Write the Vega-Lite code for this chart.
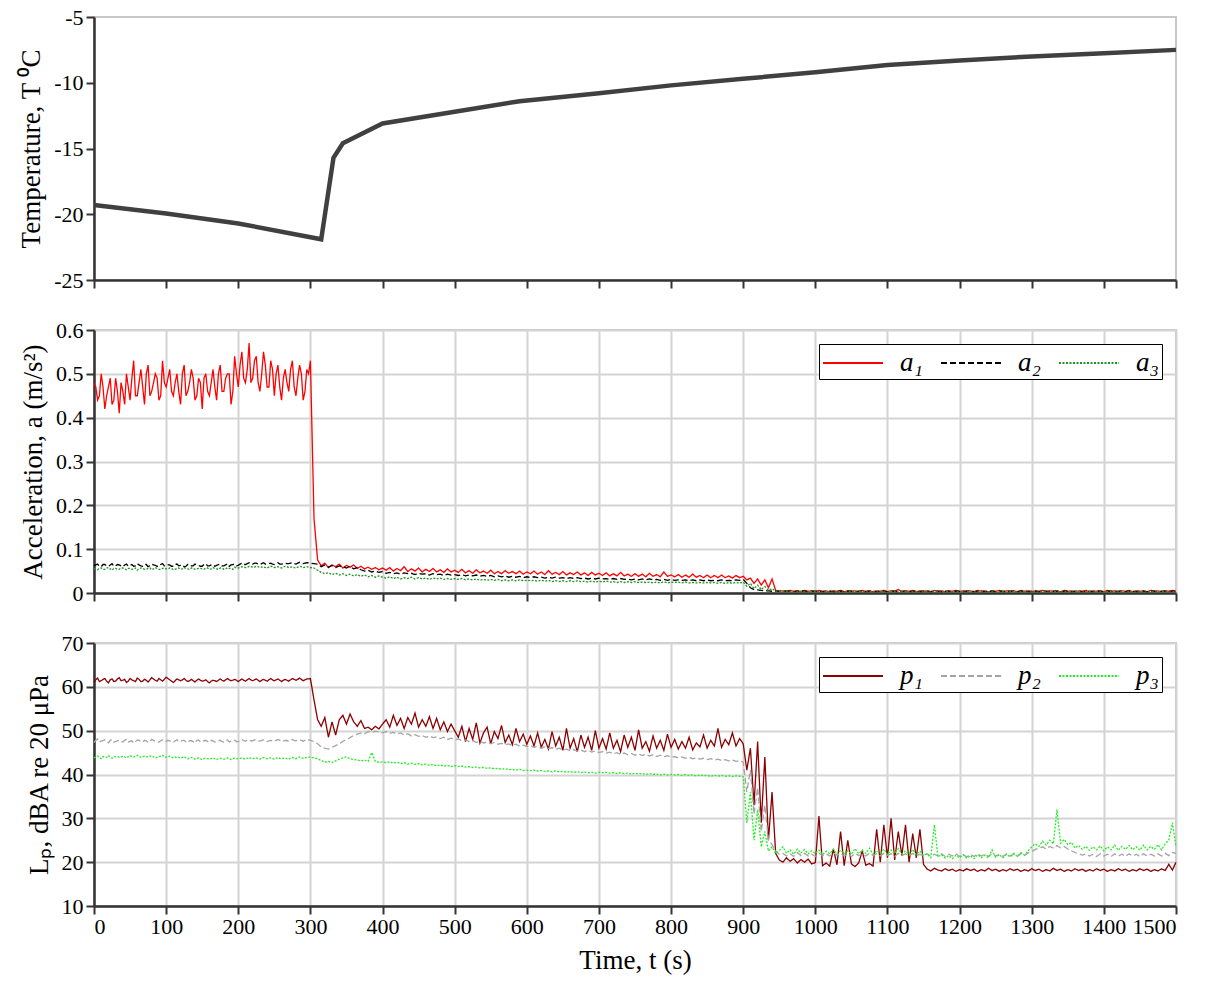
{
  "$schema": "https://vega.github.io/schema/vega-lite/v6.json",
  "background": "white",
  "padding": {"left": 16, "top": 5, "right": 30, "bottom": 5},
  "spacing": 26,
  "align": "none",
  "bounds": "full",
  "datasets": {
    "temp": [
      {"t": 0, "T": -19.3}, {"t": 100, "T": -19.95}, {"t": 200, "T": -20.7}, {"t": 315, "T": -21.9},
      {"t": 332, "T": -15.7}, {"t": 345, "T": -14.6}, {"t": 400, "T": -13.1}, {"t": 500, "T": -12.2},
      {"t": 590, "T": -11.4}, {"t": 700, "T": -10.8}, {"t": 800, "T": -10.2}, {"t": 900, "T": -9.7},
      {"t": 1000, "T": -9.2}, {"t": 1100, "T": -8.65}, {"t": 1200, "T": -8.3}, {"t": 1300, "T": -8.0},
      {"t": 1400, "T": -7.75}, {"t": 1500, "T": -7.5}
    ],
    "sig": [
      {"t":0,"a1":0.48,"a2":0.062,"a3":0.056,"p1":61.0,"p2":47.3,"p3":43.8},
      {"t":5,"a1":0.44,"a2":0.066,"a3":0.053,"p1":62.0,"p2":48.1,"p3":44.2},
      {"t":10,"a1":0.50,"a2":0.060,"a3":0.057,"p1":61.4,"p2":47.6,"p3":43.6},
      {"t":15,"a1":0.42,"a2":0.065,"a3":0.054,"p1":61.9,"p2":47.9,"p3":44.0},
      {"t":20,"a1":0.47,"a2":0.061,"a3":0.058,"p1":60.9,"p2":47.2,"p3":44.3},
      {"t":25,"a1":0.43,"a2":0.067,"a3":0.052,"p1":61.8,"p2":48.0,"p3":43.7},
      {"t":30,"a1":0.49,"a2":0.062,"a3":0.056,"p1":61.3,"p2":47.5,"p3":44.1},
      {"t":35,"a1":0.41,"a2":0.064,"a3":0.054,"p1":62.1,"p2":47.8,"p3":43.9},
      {"t":40,"a1":0.46,"a2":0.060,"a3":0.057,"p1":61.5,"p2":47.4,"p3":44.2},
      {"t":45,"a1":0.50,"a2":0.066,"a3":0.053,"p1":61.0,"p2":48.0,"p3":43.8},
      {"t":50,"a1":0.44,"a2":0.063,"a3":0.056,"p1":61.9,"p2":47.6,"p3":44.3},
      {"t":55,"a1":0.53,"a2":0.061,"a3":0.055,"p1":61.4,"p2":47.2,"p3":44.0},
      {"t":60,"a1":0.45,"a2":0.067,"a3":0.052,"p1":62.0,"p2":47.9,"p3":44.4},
      {"t":65,"a1":0.51,"a2":0.062,"a3":0.057,"p1":61.2,"p2":47.5,"p3":43.9},
      {"t":70,"a1":0.43,"a2":0.065,"a3":0.054,"p1":61.7,"p2":47.8,"p3":44.2},
      {"t":75,"a1":0.52,"a2":0.060,"a3":0.056,"p1":61.1,"p2":47.3,"p3":44.0},
      {"t":80,"a1":0.46,"a2":0.066,"a3":0.053,"p1":62.1,"p2":48.0,"p3":44.3},
      {"t":85,"a1":0.50,"a2":0.063,"a3":0.058,"p1":61.5,"p2":47.6,"p3":43.8},
      {"t":90,"a1":0.44,"a2":0.061,"a3":0.054,"p1":61.9,"p2":47.4,"p3":44.1},
      {"t":95,"a1":0.53,"a2":0.067,"a3":0.056,"p1":61.3,"p2":47.9,"p3":44.4},
      {"t":100,"a1":0.47,"a2":0.062,"a3":0.055,"p1":62.2,"p2":47.5,"p3":43.9},
      {"t":105,"a1":0.51,"a2":0.064,"a3":0.057,"p1":61.6,"p2":47.7,"p3":44.2},
      {"t":110,"a1":0.45,"a2":0.061,"a3":0.053,"p1":61.0,"p2":47.3,"p3":43.8},
      {"t":115,"a1":0.50,"a2":0.066,"a3":0.056,"p1":61.8,"p2":47.9,"p3":44.0},
      {"t":120,"a1":0.43,"a2":0.063,"a3":0.054,"p1":61.4,"p2":47.5,"p3":43.7},
      {"t":125,"a1":0.52,"a2":0.060,"a3":0.058,"p1":61.9,"p2":47.8,"p3":44.1},
      {"t":130,"a1":0.46,"a2":0.065,"a3":0.055,"p1":61.2,"p2":47.4,"p3":43.6},
      {"t":135,"a1":0.51,"a2":0.062,"a3":0.057,"p1":61.7,"p2":47.7,"p3":43.9},
      {"t":140,"a1":0.44,"a2":0.066,"a3":0.054,"p1":61.1,"p2":47.2,"p3":43.5},
      {"t":145,"a1":0.49,"a2":0.063,"a3":0.056,"p1":61.8,"p2":47.9,"p3":43.8},
      {"t":150,"a1":0.42,"a2":0.061,"a3":0.055,"p1":61.3,"p2":47.6,"p3":43.4},
      {"t":155,"a1":0.50,"a2":0.067,"a3":0.057,"p1":61.6,"p2":47.8,"p3":43.7},
      {"t":160,"a1":0.45,"a2":0.062,"a3":0.054,"p1":60.9,"p2":47.3,"p3":43.5},
      {"t":165,"a1":0.51,"a2":0.065,"a3":0.058,"p1":61.5,"p2":47.7,"p3":43.8},
      {"t":170,"a1":0.44,"a2":0.063,"a3":0.055,"p1":61.2,"p2":47.5,"p3":43.4},
      {"t":175,"a1":0.52,"a2":0.066,"a3":0.057,"p1":61.8,"p2":47.8,"p3":43.7},
      {"t":180,"a1":0.46,"a2":0.062,"a3":0.054,"p1":61.3,"p2":47.4,"p3":43.5},
      {"t":185,"a1":0.50,"a2":0.067,"a3":0.058,"p1":61.9,"p2":47.9,"p3":43.8},
      {"t":190,"a1":0.43,"a2":0.064,"a3":0.056,"p1":61.4,"p2":47.6,"p3":43.4},
      {"t":195,"a1":0.54,"a2":0.066,"a3":0.059,"p1":61.7,"p2":47.8,"p3":43.7},
      {"t":200,"a1":0.47,"a2":0.063,"a3":0.057,"p1":61.2,"p2":47.5,"p3":43.6},
      {"t":205,"a1":0.55,"a2":0.068,"a3":0.060,"p1":61.8,"p2":48.0,"p3":43.8},
      {"t":210,"a1":0.48,"a2":0.065,"a3":0.058,"p1":61.3,"p2":47.6,"p3":43.5},
      {"t":215,"a1":0.57,"a2":0.069,"a3":0.061,"p1":61.9,"p2":47.9,"p3":43.9},
      {"t":220,"a1":0.49,"a2":0.066,"a3":0.059,"p1":61.4,"p2":47.7,"p3":43.6},
      {"t":225,"a1":0.54,"a2":0.068,"a3":0.061,"p1":61.8,"p2":48.0,"p3":43.8},
      {"t":230,"a1":0.46,"a2":0.065,"a3":0.058,"p1":61.2,"p2":47.6,"p3":43.5},
      {"t":235,"a1":0.55,"a2":0.069,"a3":0.060,"p1":61.7,"p2":47.9,"p3":43.9},
      {"t":240,"a1":0.47,"a2":0.066,"a3":0.057,"p1":61.3,"p2":47.5,"p3":43.6},
      {"t":245,"a1":0.53,"a2":0.068,"a3":0.061,"p1":61.9,"p2":47.8,"p3":43.8},
      {"t":250,"a1":0.45,"a2":0.065,"a3":0.058,"p1":61.4,"p2":47.6,"p3":43.5},
      {"t":255,"a1":0.52,"a2":0.069,"a3":0.060,"p1":61.8,"p2":48.0,"p3":43.9},
      {"t":260,"a1":0.44,"a2":0.066,"a3":0.057,"p1":61.2,"p2":47.5,"p3":43.6},
      {"t":265,"a1":0.51,"a2":0.068,"a3":0.061,"p1":61.7,"p2":47.8,"p3":43.8},
      {"t":270,"a1":0.46,"a2":0.067,"a3":0.058,"p1":61.3,"p2":47.6,"p3":43.5},
      {"t":275,"a1":0.53,"a2":0.069,"a3":0.060,"p1":61.9,"p2":48.0,"p3":43.9},
      {"t":280,"a1":0.45,"a2":0.066,"a3":0.057,"p1":61.5,"p2":47.7,"p3":43.6},
      {"t":285,"a1":0.52,"a2":0.070,"a3":0.061,"p1":62.0,"p2":47.9,"p3":44.0},
      {"t":290,"a1":0.44,"a2":0.067,"a3":0.058,"p1":61.4,"p2":47.6,"p3":43.7},
      {"t":295,"a1":0.51,"a2":0.069,"a3":0.060,"p1":61.8,"p2":48.1,"p3":43.9},
      {"t":300,"a1":0.53,"a2":0.068,"a3":0.058,"p1":61.9,"p2":47.8,"p3":44.0},
      {"t":305,"a1":0.17,"a2":0.067,"a3":0.057,"p1":57.0,"p2":47.5,"p3":43.8},
      {"t":310,"a1":0.075,"a2":0.066,"a3":0.052,"p1":52.5,"p2":47.0,"p3":43.6},
      {"t":315,"a1":0.062,"a2":0.060,"a3":0.047,"p1":51.0,"p2":46.3,"p3":43.2},
      {"t":320,"a1":0.068,"a2":0.064,"a3":0.044,"p1":53.0,"p2":46.0,"p3":42.8},
      {"t":325,"a1":0.058,"a2":0.059,"a3":0.046,"p1":48.5,"p2":45.8,"p3":43.0},
      {"t":330,"a1":0.064,"a2":0.063,"a3":0.042,"p1":52.0,"p2":46.2,"p3":42.7},
      {"t":335,"a1":0.060,"a2":0.058,"a3":0.045,"p1":49.0,"p2":46.6,"p3":43.1},
      {"t":340,"a1":0.066,"a2":0.062,"a3":0.041,"p1":52.5,"p2":47.0,"p3":43.5},
      {"t":345,"a1":0.057,"a2":0.060,"a3":0.044,"p1":53.5,"p2":47.6,"p3":43.8},
      {"t":350,"a1":0.063,"a2":0.057,"a3":0.040,"p1":51.5,"p2":48.0,"p3":44.0},
      {"t":355,"a1":0.059,"a2":0.061,"a3":0.043,"p1":53.8,"p2":48.4,"p3":43.6},
      {"t":360,"a1":0.064,"a2":0.055,"a3":0.039,"p1":52.0,"p2":48.9,"p3":43.4},
      {"t":365,"a1":0.056,"a2":0.058,"a3":0.042,"p1":51.0,"p2":49.2,"p3":43.3},
      {"t":370,"a1":0.061,"a2":0.053,"a3":0.038,"p1":52.3,"p2":49.5,"p3":43.1},
      {"t":375,"a1":0.055,"a2":0.050,"a3":0.041,"p1":50.5,"p2":49.3,"p3":43.3},
      {"t":380,"a1":0.059,"a2":0.052,"a3":0.037,"p1":50.8,"p2":49.8,"p3":43.0},
      {"t":385,"a1":0.054,"a2":0.048,"a3":0.040,"p1":50.2,"p2":49.6,"p3":45.0},
      {"t":390,"a1":0.058,"a2":0.050,"a3":0.036,"p1":51.0,"p2":49.9,"p3":43.0},
      {"t":395,"a1":0.053,"a2":0.047,"a3":0.039,"p1":50.4,"p2":49.7,"p3":42.8},
      {"t":400,"a1":0.057,"a2":0.049,"a3":0.036,"p1":51.5,"p2":49.5,"p3":42.9},
      {"t":405,"a1":0.052,"a2":0.045,"a3":0.034,"p1":52.5,"p2":49.8,"p3":42.7},
      {"t":410,"a1":0.058,"a2":0.047,"a3":0.037,"p1":50.8,"p2":49.4,"p3":42.9},
      {"t":415,"a1":0.050,"a2":0.044,"a3":0.033,"p1":53.5,"p2":49.6,"p3":42.6},
      {"t":420,"a1":0.056,"a2":0.046,"a3":0.036,"p1":51.2,"p2":49.2,"p3":42.8},
      {"t":425,"a1":0.051,"a2":0.043,"a3":0.032,"p1":52.8,"p2":49.5,"p3":42.5},
      {"t":430,"a1":0.060,"a2":0.046,"a3":0.035,"p1":50.5,"p2":49.0,"p3":42.7},
      {"t":435,"a1":0.049,"a2":0.044,"a3":0.033,"p1":53.0,"p2":49.3,"p3":42.4},
      {"t":440,"a1":0.055,"a2":0.045,"a3":0.036,"p1":51.5,"p2":48.8,"p3":42.6},
      {"t":445,"a1":0.050,"a2":0.042,"a3":0.032,"p1":54.0,"p2":49.1,"p3":42.3},
      {"t":450,"a1":0.057,"a2":0.045,"a3":0.035,"p1":50.8,"p2":48.7,"p3":42.5},
      {"t":455,"a1":0.048,"a2":0.043,"a3":0.032,"p1":52.5,"p2":48.9,"p3":42.2},
      {"t":460,"a1":0.054,"a2":0.044,"a3":0.034,"p1":51.0,"p2":48.5,"p3":42.4},
      {"t":465,"a1":0.049,"a2":0.041,"a3":0.031,"p1":53.2,"p2":48.8,"p3":42.1},
      {"t":470,"a1":0.056,"a2":0.044,"a3":0.034,"p1":50.5,"p2":48.4,"p3":42.3},
      {"t":475,"a1":0.048,"a2":0.042,"a3":0.032,"p1":52.8,"p2":48.6,"p3":42.0},
      {"t":480,"a1":0.053,"a2":0.043,"a3":0.034,"p1":50.2,"p2":48.2,"p3":42.2},
      {"t":485,"a1":0.047,"a2":0.040,"a3":0.031,"p1":52.0,"p2":48.5,"p3":41.9},
      {"t":490,"a1":0.055,"a2":0.043,"a3":0.033,"p1":49.8,"p2":48.0,"p3":42.1},
      {"t":495,"a1":0.048,"a2":0.041,"a3":0.031,"p1":51.5,"p2":48.3,"p3":41.8},
      {"t":500,"a1":0.052,"a2":0.042,"a3":0.033,"p1":50.0,"p2":47.9,"p3":42.0},
      {"t":505,"a1":0.047,"a2":0.040,"a3":0.031,"p1":48.5,"p2":48.1,"p3":41.8},
      {"t":510,"a1":0.054,"a2":0.042,"a3":0.033,"p1":51.0,"p2":47.7,"p3":41.9},
      {"t":515,"a1":0.046,"a2":0.039,"a3":0.030,"p1":47.5,"p2":47.9,"p3":41.7},
      {"t":520,"a1":0.051,"a2":0.041,"a3":0.032,"p1":50.5,"p2":47.5,"p3":41.8},
      {"t":525,"a1":0.045,"a2":0.039,"a3":0.030,"p1":48.0,"p2":47.8,"p3":41.6},
      {"t":530,"a1":0.053,"a2":0.041,"a3":0.032,"p1":51.8,"p2":47.3,"p3":41.7},
      {"t":535,"a1":0.046,"a2":0.038,"a3":0.029,"p1":47.2,"p2":47.6,"p3":41.5},
      {"t":540,"a1":0.050,"a2":0.040,"a3":0.031,"p1":49.5,"p2":47.2,"p3":41.6},
      {"t":545,"a1":0.045,"a2":0.038,"a3":0.029,"p1":50.8,"p2":47.4,"p3":41.4},
      {"t":550,"a1":0.052,"a2":0.040,"a3":0.031,"p1":47.0,"p2":47.0,"p3":41.5},
      {"t":555,"a1":0.044,"a2":0.037,"a3":0.029,"p1":49.8,"p2":47.3,"p3":41.3},
      {"t":560,"a1":0.049,"a2":0.039,"a3":0.031,"p1":48.2,"p2":46.9,"p3":41.4},
      {"t":565,"a1":0.044,"a2":0.037,"a3":0.028,"p1":51.2,"p2":47.1,"p3":41.2},
      {"t":570,"a1":0.051,"a2":0.039,"a3":0.030,"p1":47.3,"p2":46.8,"p3":41.3},
      {"t":575,"a1":0.045,"a2":0.036,"a3":0.028,"p1":49.0,"p2":47.0,"p3":41.1},
      {"t":580,"a1":0.049,"a2":0.038,"a3":0.030,"p1":46.8,"p2":46.6,"p3":41.2},
      {"t":585,"a1":0.044,"a2":0.036,"a3":0.028,"p1":50.5,"p2":46.9,"p3":41.0},
      {"t":590,"a1":0.050,"a2":0.038,"a3":0.030,"p1":47.5,"p2":46.5,"p3":41.2},
      {"t":595,"a1":0.043,"a2":0.035,"a3":0.028,"p1":49.2,"p2":46.7,"p3":40.9},
      {"t":600,"a1":0.048,"a2":0.037,"a3":0.029,"p1":46.9,"p2":46.4,"p3":41.0},
      {"t":605,"a1":0.044,"a2":0.035,"a3":0.028,"p1":48.8,"p2":46.6,"p3":40.9},
      {"t":610,"a1":0.050,"a2":0.037,"a3":0.029,"p1":46.5,"p2":46.2,"p3":41.0},
      {"t":615,"a1":0.043,"a2":0.035,"a3":0.027,"p1":49.5,"p2":46.4,"p3":40.8},
      {"t":620,"a1":0.048,"a2":0.036,"a3":0.029,"p1":46.2,"p2":46.0,"p3":40.9},
      {"t":625,"a1":0.042,"a2":0.034,"a3":0.027,"p1":48.0,"p2":46.3,"p3":40.7},
      {"t":630,"a1":0.051,"a2":0.036,"a3":0.029,"p1":45.8,"p2":45.9,"p3":40.8},
      {"t":635,"a1":0.043,"a2":0.034,"a3":0.026,"p1":49.8,"p2":46.1,"p3":40.6},
      {"t":640,"a1":0.047,"a2":0.036,"a3":0.028,"p1":46.5,"p2":45.7,"p3":40.8},
      {"t":645,"a1":0.042,"a2":0.034,"a3":0.026,"p1":48.5,"p2":46.0,"p3":40.6},
      {"t":650,"a1":0.049,"a2":0.035,"a3":0.028,"p1":45.5,"p2":45.6,"p3":40.7},
      {"t":655,"a1":0.041,"a2":0.033,"a3":0.026,"p1":50.5,"p2":45.8,"p3":40.5},
      {"t":660,"a1":0.046,"a2":0.035,"a3":0.028,"p1":46.0,"p2":45.4,"p3":40.7},
      {"t":665,"a1":0.042,"a2":0.033,"a3":0.026,"p1":48.2,"p2":45.7,"p3":40.5},
      {"t":670,"a1":0.048,"a2":0.035,"a3":0.028,"p1":45.2,"p2":45.3,"p3":40.6},
      {"t":675,"a1":0.041,"a2":0.033,"a3":0.026,"p1":49.0,"p2":45.6,"p3":40.4},
      {"t":680,"a1":0.046,"a2":0.034,"a3":0.027,"p1":46.2,"p2":45.2,"p3":40.6},
      {"t":685,"a1":0.040,"a2":0.032,"a3":0.025,"p1":48.5,"p2":45.5,"p3":40.4},
      {"t":690,"a1":0.047,"a2":0.034,"a3":0.027,"p1":45.5,"p2":45.1,"p3":40.5},
      {"t":695,"a1":0.041,"a2":0.032,"a3":0.025,"p1":50.0,"p2":45.4,"p3":40.3},
      {"t":700,"a1":0.045,"a2":0.034,"a3":0.027,"p1":46.0,"p2":45.0,"p3":40.5},
      {"t":705,"a1":0.040,"a2":0.032,"a3":0.025,"p1":48.2,"p2":45.2,"p3":40.4},
      {"t":710,"a1":0.046,"a2":0.033,"a3":0.027,"p1":45.8,"p2":44.9,"p3":40.5},
      {"t":715,"a1":0.039,"a2":0.031,"a3":0.025,"p1":49.5,"p2":45.1,"p3":40.3},
      {"t":720,"a1":0.044,"a2":0.033,"a3":0.026,"p1":46.0,"p2":44.7,"p3":40.4},
      {"t":725,"a1":0.039,"a2":0.031,"a3":0.024,"p1":47.8,"p2":45.0,"p3":40.2},
      {"t":730,"a1":0.047,"a2":0.033,"a3":0.026,"p1":45.2,"p2":44.6,"p3":40.4},
      {"t":735,"a1":0.039,"a2":0.031,"a3":0.024,"p1":49.0,"p2":44.9,"p3":40.2},
      {"t":740,"a1":0.043,"a2":0.032,"a3":0.026,"p1":46.2,"p2":44.5,"p3":40.3},
      {"t":745,"a1":0.038,"a2":0.030,"a3":0.024,"p1":48.5,"p2":44.8,"p3":40.1},
      {"t":750,"a1":0.044,"a2":0.032,"a3":0.026,"p1":45.5,"p2":44.4,"p3":40.3},
      {"t":755,"a1":0.038,"a2":0.030,"a3":0.024,"p1":50.2,"p2":44.7,"p3":40.1},
      {"t":760,"a1":0.043,"a2":0.032,"a3":0.025,"p1":46.0,"p2":44.3,"p3":40.2},
      {"t":765,"a1":0.037,"a2":0.030,"a3":0.024,"p1":47.5,"p2":44.6,"p3":40.0},
      {"t":770,"a1":0.045,"a2":0.032,"a3":0.025,"p1":45.3,"p2":44.2,"p3":40.2},
      {"t":775,"a1":0.038,"a2":0.030,"a3":0.023,"p1":48.8,"p2":44.5,"p3":40.0},
      {"t":780,"a1":0.042,"a2":0.031,"a3":0.025,"p1":46.0,"p2":44.1,"p3":40.1},
      {"t":785,"a1":0.037,"a2":0.029,"a3":0.023,"p1":47.8,"p2":44.4,"p3":39.9},
      {"t":790,"a1":0.048,"a2":0.031,"a3":0.025,"p1":45.5,"p2":44.0,"p3":40.1},
      {"t":795,"a1":0.038,"a2":0.029,"a3":0.023,"p1":49.2,"p2":44.3,"p3":39.9},
      {"t":800,"a1":0.041,"a2":0.031,"a3":0.025,"p1":46.2,"p2":43.9,"p3":40.0},
      {"t":805,"a1":0.037,"a2":0.029,"a3":0.024,"p1":48.0,"p2":44.1,"p3":39.9},
      {"t":810,"a1":0.042,"a2":0.030,"a3":0.025,"p1":45.8,"p2":43.8,"p3":40.0},
      {"t":815,"a1":0.036,"a2":0.029,"a3":0.023,"p1":47.5,"p2":44.0,"p3":39.8},
      {"t":820,"a1":0.041,"a2":0.030,"a3":0.025,"p1":46.0,"p2":43.7,"p3":40.0},
      {"t":825,"a1":0.036,"a2":0.028,"a3":0.023,"p1":48.5,"p2":43.9,"p3":39.8},
      {"t":830,"a1":0.043,"a2":0.030,"a3":0.024,"p1":45.6,"p2":43.6,"p3":39.9},
      {"t":835,"a1":0.036,"a2":0.028,"a3":0.023,"p1":47.2,"p2":43.8,"p3":39.7},
      {"t":840,"a1":0.040,"a2":0.030,"a3":0.024,"p1":46.3,"p2":43.5,"p3":39.9},
      {"t":845,"a1":0.035,"a2":0.028,"a3":0.023,"p1":49.0,"p2":43.7,"p3":39.7},
      {"t":850,"a1":0.041,"a2":0.030,"a3":0.024,"p1":46.0,"p2":43.4,"p3":39.8},
      {"t":855,"a1":0.035,"a2":0.028,"a3":0.023,"p1":47.8,"p2":43.6,"p3":39.6},
      {"t":860,"a1":0.040,"a2":0.029,"a3":0.024,"p1":46.5,"p2":43.3,"p3":39.8},
      {"t":865,"a1":0.035,"a2":0.028,"a3":0.022,"p1":50.5,"p2":43.5,"p3":39.6},
      {"t":870,"a1":0.041,"a2":0.030,"a3":0.024,"p1":46.2,"p2":43.2,"p3":39.8},
      {"t":875,"a1":0.035,"a2":0.028,"a3":0.022,"p1":48.0,"p2":43.4,"p3":39.6},
      {"t":880,"a1":0.039,"a2":0.029,"a3":0.024,"p1":46.8,"p2":43.1,"p3":39.7},
      {"t":885,"a1":0.034,"a2":0.028,"a3":0.022,"p1":49.5,"p2":43.3,"p3":39.5},
      {"t":890,"a1":0.040,"a2":0.030,"a3":0.024,"p1":46.5,"p2":43.0,"p3":39.7},
      {"t":895,"a1":0.035,"a2":0.029,"a3":0.023,"p1":48.2,"p2":43.2,"p3":39.6},
      {"t":900,"a1":0.038,"a2":0.031,"a3":0.025,"p1":47.0,"p2":42.8,"p3":39.5},
      {"t":905,"a1":0.030,"a2":0.022,"a3":0.015,"p1":41.0,"p2":36.0,"p3":29.0},
      {"t":910,"a1":0.034,"a2":0.012,"a3":0.022,"p1":46.0,"p2":41.0,"p3":36.0},
      {"t":915,"a1":0.022,"a2":0.008,"a3":0.010,"p1":33.0,"p2":31.0,"p3":25.0},
      {"t":920,"a1":0.032,"a2":0.007,"a3":0.018,"p1":47.5,"p2":37.0,"p3":32.0},
      {"t":925,"a1":0.018,"a2":0.006,"a3":0.008,"p1":29.0,"p2":27.0,"p3":23.5},
      {"t":930,"a1":0.030,"a2":0.005,"a3":0.015,"p1":44.0,"p2":33.0,"p3":27.0},
      {"t":935,"a1":0.012,"a2":0.005,"a3":0.006,"p1":25.0,"p2":25.0,"p3":22.5},
      {"t":940,"a1":0.032,"a2":0.004,"a3":0.010,"p1":36.0,"p2":24.0,"p3":23.5},
      {"t":945,"a1":0.006,"a2":0.004,"a3":0.004,"p1":22.0,"p2":22.5,"p3":22.0},
      {"t":950,"a1":0.004,"a2":0.004,"a3":0.003,"p1":20.5,"p2":21.8,"p3":22.6},
      {"t":955,"a1":0.005,"a2":0.004,"a3":0.003,"p1":20.0,"p2":22.0,"p3":23.5},
      {"t":960,"a1":0.003,"a2":0.005,"a3":0.004,"p1":21.0,"p2":21.4,"p3":22.0},
      {"t":965,"a1":0.006,"a2":0.004,"a3":0.003,"p1":20.2,"p2":21.9,"p3":22.8},
      {"t":970,"a1":0.004,"a2":0.003,"a3":0.002,"p1":20.8,"p2":21.3,"p3":21.8},
      {"t":975,"a1":0.005,"a2":0.004,"a3":0.003,"p1":19.8,"p2":22.2,"p3":23.0},
      {"t":980,"a1":0.003,"a2":0.005,"a3":0.004,"p1":20.6,"p2":21.5,"p3":22.1},
      {"t":985,"a1":0.006,"a2":0.004,"a3":0.003,"p1":20.0,"p2":22.0,"p3":22.9},
      {"t":990,"a1":0.004,"a2":0.003,"a3":0.002,"p1":20.7,"p2":21.4,"p3":21.9},
      {"t":995,"a1":0.005,"a2":0.004,"a3":0.003,"p1":19.6,"p2":21.8,"p3":22.6},
      {"t":1000,"a1":0.003,"a2":0.004,"a3":0.003,"p1":19.9,"p2":21.3,"p3":22.0},
      {"t":1005,"a1":0.006,"a2":0.004,"a3":0.003,"p1":30.5,"p2":22.0,"p3":22.8},
      {"t":1010,"a1":0.004,"a2":0.003,"a3":0.002,"p1":19.2,"p2":21.5,"p3":21.7},
      {"t":1015,"a1":0.005,"a2":0.004,"a3":0.003,"p1":19.8,"p2":21.9,"p3":22.5},
      {"t":1020,"a1":0.003,"a2":0.004,"a3":0.003,"p1":19.1,"p2":21.4,"p3":21.9},
      {"t":1025,"a1":0.005,"a2":0.003,"a3":0.002,"p1":23.0,"p2":22.1,"p3":23.0},
      {"t":1030,"a1":0.004,"a2":0.004,"a3":0.003,"p1":19.4,"p2":21.6,"p3":21.8},
      {"t":1035,"a1":0.006,"a2":0.004,"a3":0.003,"p1":27.0,"p2":22.0,"p3":22.7},
      {"t":1040,"a1":0.003,"a2":0.003,"a3":0.002,"p1":19.2,"p2":21.4,"p3":21.9},
      {"t":1045,"a1":0.005,"a2":0.004,"a3":0.003,"p1":25.0,"p2":21.9,"p3":22.6},
      {"t":1050,"a1":0.004,"a2":0.004,"a3":0.003,"p1":19.6,"p2":21.3,"p3":21.8},
      {"t":1055,"a1":0.005,"a2":0.003,"a3":0.002,"p1":19.0,"p2":22.0,"p3":23.1},
      {"t":1060,"a1":0.003,"a2":0.004,"a3":0.003,"p1":19.8,"p2":21.5,"p3":21.9},
      {"t":1065,"a1":0.006,"a2":0.004,"a3":0.003,"p1":22.5,"p2":21.8,"p3":22.7},
      {"t":1070,"a1":0.004,"a2":0.003,"a3":0.002,"p1":19.3,"p2":21.4,"p3":22.0},
      {"t":1075,"a1":0.005,"a2":0.004,"a3":0.003,"p1":19.7,"p2":22.1,"p3":23.2},
      {"t":1080,"a1":0.003,"a2":0.004,"a3":0.003,"p1":19.1,"p2":21.5,"p3":21.8},
      {"t":1085,"a1":0.005,"a2":0.003,"a3":0.002,"p1":27.5,"p2":21.9,"p3":22.6},
      {"t":1090,"a1":0.004,"a2":0.004,"a3":0.003,"p1":20.0,"p2":21.4,"p3":22.0},
      {"t":1095,"a1":0.006,"a2":0.004,"a3":0.003,"p1":28.5,"p2":22.0,"p3":23.0},
      {"t":1100,"a1":0.003,"a2":0.003,"a3":0.002,"p1":21.0,"p2":21.5,"p3":21.7},
      {"t":1105,"a1":0.005,"a2":0.004,"a3":0.003,"p1":30.0,"p2":21.9,"p3":22.8},
      {"t":1110,"a1":0.004,"a2":0.004,"a3":0.003,"p1":20.5,"p2":21.3,"p3":22.0},
      {"t":1115,"a1":0.008,"a2":0.003,"a3":0.002,"p1":27.0,"p2":22.0,"p3":23.1},
      {"t":1120,"a1":0.003,"a2":0.004,"a3":0.003,"p1":21.5,"p2":21.5,"p3":21.9},
      {"t":1125,"a1":0.005,"a2":0.004,"a3":0.003,"p1":28.5,"p2":21.9,"p3":22.6},
      {"t":1130,"a1":0.004,"a2":0.003,"a3":0.002,"p1":20.0,"p2":21.4,"p3":21.8},
      {"t":1135,"a1":0.006,"a2":0.004,"a3":0.003,"p1":26.5,"p2":22.0,"p3":22.9},
      {"t":1140,"a1":0.003,"a2":0.004,"a3":0.003,"p1":21.0,"p2":21.5,"p3":21.7},
      {"t":1145,"a1":0.005,"a2":0.003,"a3":0.002,"p1":27.5,"p2":21.8,"p3":22.5},
      {"t":1150,"a1":0.004,"a2":0.004,"a3":0.003,"p1":19.5,"p2":21.4,"p3":21.6},
      {"t":1155,"a1":0.005,"a2":0.004,"a3":0.003,"p1":18.4,"p2":21.9,"p3":21.9},
      {"t":1160,"a1":0.003,"a2":0.003,"a3":0.002,"p1":18.0,"p2":21.3,"p3":21.0},
      {"t":1165,"a1":0.006,"a2":0.004,"a3":0.003,"p1":18.6,"p2":21.8,"p3":28.5},
      {"t":1170,"a1":0.004,"a2":0.004,"a3":0.003,"p1":18.2,"p2":21.4,"p3":21.2},
      {"t":1175,"a1":0.005,"a2":0.003,"a3":0.002,"p1":18.0,"p2":21.9,"p3":21.7},
      {"t":1180,"a1":0.003,"a2":0.004,"a3":0.003,"p1":18.5,"p2":21.3,"p3":20.9},
      {"t":1185,"a1":0.005,"a2":0.004,"a3":0.003,"p1":18.1,"p2":21.8,"p3":21.5},
      {"t":1190,"a1":0.004,"a2":0.003,"a3":0.002,"p1":18.4,"p2":21.4,"p3":20.8},
      {"t":1195,"a1":0.006,"a2":0.004,"a3":0.003,"p1":17.9,"p2":21.9,"p3":21.6},
      {"t":1200,"a1":0.003,"a2":0.004,"a3":0.003,"p1":18.3,"p2":21.3,"p3":21.0},
      {"t":1205,"a1":0.005,"a2":0.003,"a3":0.002,"p1":18.0,"p2":21.7,"p3":21.7},
      {"t":1210,"a1":0.004,"a2":0.004,"a3":0.003,"p1":18.5,"p2":21.2,"p3":20.9},
      {"t":1215,"a1":0.005,"a2":0.004,"a3":0.003,"p1":18.1,"p2":21.8,"p3":21.5},
      {"t":1220,"a1":0.003,"a2":0.003,"a3":0.002,"p1":18.4,"p2":21.3,"p3":20.8},
      {"t":1225,"a1":0.006,"a2":0.004,"a3":0.003,"p1":17.9,"p2":21.9,"p3":21.7},
      {"t":1230,"a1":0.004,"a2":0.004,"a3":0.003,"p1":18.3,"p2":21.4,"p3":21.0},
      {"t":1235,"a1":0.005,"a2":0.003,"a3":0.002,"p1":18.0,"p2":21.8,"p3":21.6},
      {"t":1240,"a1":0.003,"a2":0.004,"a3":0.003,"p1":18.6,"p2":21.3,"p3":21.0},
      {"t":1245,"a1":0.005,"a2":0.004,"a3":0.003,"p1":18.1,"p2":21.9,"p3":22.8},
      {"t":1250,"a1":0.004,"a2":0.003,"a3":0.002,"p1":18.4,"p2":21.4,"p3":21.1},
      {"t":1255,"a1":0.006,"a2":0.004,"a3":0.003,"p1":17.9,"p2":21.8,"p3":21.7},
      {"t":1260,"a1":0.003,"a2":0.004,"a3":0.003,"p1":18.3,"p2":21.3,"p3":21.0},
      {"t":1265,"a1":0.005,"a2":0.003,"a3":0.002,"p1":18.0,"p2":21.9,"p3":21.8},
      {"t":1270,"a1":0.004,"a2":0.004,"a3":0.003,"p1":18.5,"p2":21.4,"p3":21.2},
      {"t":1275,"a1":0.005,"a2":0.004,"a3":0.003,"p1":18.1,"p2":21.8,"p3":22.0},
      {"t":1280,"a1":0.003,"a2":0.003,"a3":0.002,"p1":18.4,"p2":21.3,"p3":21.3},
      {"t":1285,"a1":0.006,"a2":0.004,"a3":0.003,"p1":17.9,"p2":22.0,"p3":22.2},
      {"t":1290,"a1":0.004,"a2":0.004,"a3":0.003,"p1":18.3,"p2":21.5,"p3":21.6},
      {"t":1295,"a1":0.005,"a2":0.003,"a3":0.002,"p1":18.0,"p2":22.1,"p3":22.6},
      {"t":1300,"a1":0.003,"a2":0.004,"a3":0.003,"p1":18.5,"p2":22.4,"p3":23.5},
      {"t":1305,"a1":0.005,"a2":0.004,"a3":0.003,"p1":18.1,"p2":22.9,"p3":24.2},
      {"t":1310,"a1":0.004,"a2":0.003,"a3":0.002,"p1":18.4,"p2":23.2,"p3":23.6},
      {"t":1315,"a1":0.006,"a2":0.004,"a3":0.003,"p1":17.9,"p2":23.5,"p3":24.8},
      {"t":1320,"a1":0.003,"a2":0.004,"a3":0.003,"p1":18.3,"p2":23.0,"p3":23.9},
      {"t":1325,"a1":0.005,"a2":0.003,"a3":0.002,"p1":18.0,"p2":23.6,"p3":25.0},
      {"t":1330,"a1":0.004,"a2":0.004,"a3":0.003,"p1":18.6,"p2":23.2,"p3":24.2},
      {"t":1335,"a1":0.005,"a2":0.004,"a3":0.003,"p1":18.1,"p2":23.8,"p3":32.0},
      {"t":1340,"a1":0.003,"a2":0.003,"a3":0.002,"p1":18.4,"p2":23.3,"p3":24.3},
      {"t":1345,"a1":0.006,"a2":0.004,"a3":0.003,"p1":17.9,"p2":23.6,"p3":25.2},
      {"t":1350,"a1":0.004,"a2":0.004,"a3":0.003,"p1":18.3,"p2":23.0,"p3":24.0},
      {"t":1355,"a1":0.005,"a2":0.003,"a3":0.002,"p1":18.0,"p2":22.6,"p3":24.5},
      {"t":1360,"a1":0.003,"a2":0.004,"a3":0.003,"p1":18.5,"p2":22.2,"p3":23.2},
      {"t":1365,"a1":0.005,"a2":0.004,"a3":0.003,"p1":18.1,"p2":21.9,"p3":23.8},
      {"t":1370,"a1":0.004,"a2":0.003,"a3":0.002,"p1":18.4,"p2":21.6,"p3":22.9},
      {"t":1375,"a1":0.006,"a2":0.004,"a3":0.003,"p1":17.9,"p2":21.9,"p3":23.6},
      {"t":1380,"a1":0.003,"a2":0.004,"a3":0.003,"p1":18.3,"p2":21.4,"p3":22.7},
      {"t":1385,"a1":0.005,"a2":0.003,"a3":0.002,"p1":18.0,"p2":21.8,"p3":23.5},
      {"t":1390,"a1":0.004,"a2":0.004,"a3":0.003,"p1":18.5,"p2":21.3,"p3":22.8},
      {"t":1395,"a1":0.005,"a2":0.004,"a3":0.003,"p1":18.1,"p2":21.9,"p3":23.7},
      {"t":1400,"a1":0.003,"a2":0.003,"a3":0.002,"p1":18.4,"p2":21.4,"p3":22.6},
      {"t":1405,"a1":0.006,"a2":0.004,"a3":0.003,"p1":17.9,"p2":21.8,"p3":23.5},
      {"t":1410,"a1":0.004,"a2":0.004,"a3":0.003,"p1":18.3,"p2":21.3,"p3":22.8},
      {"t":1415,"a1":0.005,"a2":0.003,"a3":0.002,"p1":18.0,"p2":21.9,"p3":23.9},
      {"t":1420,"a1":0.003,"a2":0.004,"a3":0.003,"p1":18.5,"p2":21.4,"p3":22.7},
      {"t":1425,"a1":0.005,"a2":0.004,"a3":0.003,"p1":18.1,"p2":21.8,"p3":23.6},
      {"t":1430,"a1":0.004,"a2":0.003,"a3":0.002,"p1":18.4,"p2":21.3,"p3":22.9},
      {"t":1435,"a1":0.006,"a2":0.004,"a3":0.003,"p1":17.9,"p2":21.9,"p3":23.8},
      {"t":1440,"a1":0.003,"a2":0.004,"a3":0.003,"p1":18.3,"p2":21.4,"p3":22.8},
      {"t":1445,"a1":0.005,"a2":0.003,"a3":0.002,"p1":18.0,"p2":21.8,"p3":23.5},
      {"t":1450,"a1":0.004,"a2":0.004,"a3":0.003,"p1":18.5,"p2":21.3,"p3":22.7},
      {"t":1455,"a1":0.005,"a2":0.004,"a3":0.003,"p1":18.1,"p2":21.9,"p3":23.9},
      {"t":1460,"a1":0.003,"a2":0.003,"a3":0.002,"p1":18.4,"p2":21.4,"p3":22.8},
      {"t":1465,"a1":0.006,"a2":0.004,"a3":0.003,"p1":17.9,"p2":21.8,"p3":23.6},
      {"t":1470,"a1":0.004,"a2":0.004,"a3":0.003,"p1":18.3,"p2":21.4,"p3":22.9},
      {"t":1475,"a1":0.005,"a2":0.003,"a3":0.002,"p1":18.0,"p2":21.9,"p3":24.0},
      {"t":1480,"a1":0.003,"a2":0.004,"a3":0.003,"p1":18.5,"p2":21.4,"p3":22.8},
      {"t":1485,"a1":0.005,"a2":0.004,"a3":0.003,"p1":18.1,"p2":22.0,"p3":24.2},
      {"t":1490,"a1":0.004,"a2":0.003,"a3":0.002,"p1":19.5,"p2":21.5,"p3":25.0},
      {"t":1495,"a1":0.006,"a2":0.004,"a3":0.003,"p1":18.2,"p2":22.2,"p3":29.0},
      {"t":1500,"a1":0.004,"a2":0.004,"a3":0.003,"p1":20.0,"p2":22.0,"p3":23.5},
      {"t":2.5,"a1":0.47,"a2":0.064,"a3":0.055,"p1":61.6,"p2":47.8,"p3":44.0},
      {"t":7.5,"a1":0.45,"a2":0.061,"a3":0.056,"p1":61.2,"p2":47.4,"p3":43.9},
      {"t":12.5,"a1":0.47,"a2":0.065,"a3":0.054,"p1":61.7,"p2":47.7,"p3":44.1},
      {"t":17.5,"a1":0.45,"a2":0.062,"a3":0.057,"p1":61.3,"p2":47.5,"p3":43.9},
      {"t":22.5,"a1":0.49,"a2":0.064,"a3":0.055,"p1":61.6,"p2":47.8,"p3":44.0},
      {"t":27.5,"a1":0.44,"a2":0.061,"a3":0.056,"p1":61.2,"p2":47.4,"p3":43.9},
      {"t":32.5,"a1":0.46,"a2":0.065,"a3":0.054,"p1":61.8,"p2":47.7,"p3":44.1},
      {"t":37.5,"a1":0.48,"a2":0.062,"a3":0.057,"p1":61.4,"p2":47.5,"p3":44.0},
      {"t":42.5,"a1":0.43,"a2":0.064,"a3":0.055,"p1":61.7,"p2":47.8,"p3":44.0},
      {"t":47.5,"a1":0.47,"a2":0.061,"a3":0.056,"p1":61.3,"p2":47.4,"p3":44.1},
      {"t":52.5,"a1":0.49,"a2":0.065,"a3":0.054,"p1":61.6,"p2":47.7,"p3":44.1},
      {"t":57.5,"a1":0.45,"a2":0.062,"a3":0.057,"p1":61.2,"p2":47.5,"p3":44.2},
      {"t":62.5,"a1":0.48,"a2":0.064,"a3":0.055,"p1":61.7,"p2":47.8,"p3":44.1},
      {"t":67.5,"a1":0.47,"a2":0.061,"a3":0.056,"p1":61.3,"p2":47.4,"p3":44.0},
      {"t":72.5,"a1":0.50,"a2":0.065,"a3":0.054,"p1":61.5,"p2":47.7,"p3":44.1},
      {"t":77.5,"a1":0.45,"a2":0.062,"a3":0.057,"p1":61.6,"p2":47.5,"p3":44.2},
      {"t":82.5,"a1":0.48,"a2":0.064,"a3":0.055,"p1":61.8,"p2":47.8,"p3":44.0},
      {"t":87.5,"a1":0.49,"a2":0.061,"a3":0.056,"p1":61.3,"p2":47.4,"p3":43.9},
      {"t":92.5,"a1":0.45,"a2":0.065,"a3":0.054,"p1":61.6,"p2":47.7,"p3":44.2},
      {"t":97.5,"a1":0.48,"a2":0.062,"a3":0.057,"p1":61.7,"p2":47.5,"p3":44.1},
      {"t":102.5,"a1":0.49,"a2":0.064,"a3":0.055,"p1":61.9,"p2":47.8,"p3":44.0},
      {"t":107.5,"a1":0.46,"a2":0.061,"a3":0.056,"p1":61.3,"p2":47.4,"p3":44.0},
      {"t":112.5,"a1":0.48,"a2":0.065,"a3":0.054,"p1":61.4,"p2":47.7,"p3":43.9},
      {"t":117.5,"a1":0.46,"a2":0.062,"a3":0.057,"p1":61.6,"p2":47.5,"p3":43.9},
      {"t":122.5,"a1":0.50,"a2":0.064,"a3":0.055,"p1":61.6,"p2":47.8,"p3":43.9},
      {"t":127.5,"a1":0.45,"a2":0.061,"a3":0.056,"p1":61.5,"p2":47.4,"p3":43.8},
      {"t":132.5,"a1":0.48,"a2":0.065,"a3":0.054,"p1":61.4,"p2":47.7,"p3":43.7},
      {"t":137.5,"a1":0.49,"a2":0.062,"a3":0.057,"p1":61.4,"p2":47.5,"p3":43.7},
      {"t":142.5,"a1":0.45,"a2":0.064,"a3":0.055,"p1":61.5,"p2":47.8,"p3":43.6},
      {"t":147.5,"a1":0.48,"a2":0.061,"a3":0.056,"p1":61.5,"p2":47.4,"p3":43.6},
      {"t":152.5,"a1":0.49,"a2":0.065,"a3":0.054,"p1":61.4,"p2":47.7,"p3":43.6},
      {"t":157.5,"a1":0.46,"a2":0.062,"a3":0.057,"p1":61.2,"p2":47.5,"p3":43.6},
      {"t":162.5,"a1":0.48,"a2":0.064,"a3":0.055,"p1":61.3,"p2":47.8,"p3":43.6},
      {"t":167.5,"a1":0.47,"a2":0.061,"a3":0.056,"p1":61.4,"p2":47.4,"p3":43.6},
      {"t":172.5,"a1":0.50,"a2":0.065,"a3":0.054,"p1":61.5,"p2":47.7,"p3":43.6},
      {"t":177.5,"a1":0.46,"a2":0.062,"a3":0.057,"p1":61.5,"p2":47.5,"p3":43.6},
      {"t":182.5,"a1":0.49,"a2":0.064,"a3":0.055,"p1":61.6,"p2":47.8,"p3":43.6},
      {"t":187.5,"a1":0.50,"a2":0.061,"a3":0.056,"p1":61.6,"p2":47.4,"p3":43.6},
      {"t":192.5,"a1":0.46,"a2":0.065,"a3":0.054,"p1":61.5,"p2":47.7,"p3":43.6},
      {"t":197.5,"a1":0.50,"a2":0.062,"a3":0.057,"p1":61.5,"p2":47.5,"p3":43.6},
      {"t":202.5,"a1":0.52,"a2":0.066,"a3":0.058,"p1":61.5,"p2":47.8,"p3":43.7},
      {"t":207.5,"a1":0.49,"a2":0.065,"a3":0.059,"p1":61.5,"p2":47.7,"p3":43.6},
      {"t":212.5,"a1":0.51,"a2":0.067,"a3":0.058,"p1":61.6,"p2":47.8,"p3":43.7},
      {"t":217.5,"a1":0.48,"a2":0.066,"a3":0.060,"p1":61.6,"p2":47.7,"p3":43.7},
      {"t":222.5,"a1":0.53,"a2":0.068,"a3":0.059,"p1":61.6,"p2":47.9,"p3":43.7},
      {"t":227.5,"a1":0.48,"a2":0.066,"a3":0.060,"p1":61.5,"p2":47.7,"p3":43.6},
      {"t":232.5,"a1":0.50,"a2":0.067,"a3":0.059,"p1":61.5,"p2":47.8,"p3":43.7},
      {"t":237.5,"a1":0.52,"a2":0.066,"a3":0.058,"p1":61.5,"p2":47.7,"p3":43.7},
      {"t":242.5,"a1":0.47,"a2":0.067,"a3":0.059,"p1":61.6,"p2":47.7,"p3":43.7},
      {"t":247.5,"a1":0.51,"a2":0.066,"a3":0.060,"p1":61.6,"p2":47.7,"p3":43.6},
      {"t":252.5,"a1":0.50,"a2":0.067,"a3":0.059,"p1":61.6,"p2":47.8,"p3":43.7},
      {"t":257.5,"a1":0.47,"a2":0.066,"a3":0.058,"p1":61.5,"p2":47.8,"p3":43.7},
      {"t":262.5,"a1":0.49,"a2":0.067,"a3":0.059,"p1":61.5,"p2":47.7,"p3":43.7},
      {"t":267.5,"a1":0.48,"a2":0.067,"a3":0.060,"p1":61.5,"p2":47.7,"p3":43.6},
      {"t":272.5,"a1":0.51,"a2":0.068,"a3":0.059,"p1":61.6,"p2":47.8,"p3":43.7},
      {"t":277.5,"a1":0.47,"a2":0.067,"a3":0.058,"p1":61.7,"p2":47.8,"p3":43.7},
      {"t":282.5,"a1":0.49,"a2":0.068,"a3":0.059,"p1":61.7,"p2":47.8,"p3":43.8},
      {"t":287.5,"a1":0.50,"a2":0.068,"a3":0.060,"p1":61.7,"p2":47.8,"p3":43.8},
      {"t":292.5,"a1":0.46,"a2":0.068,"a3":0.059,"p1":61.6,"p2":47.8,"p3":43.8},
      {"t":297.5,"a1":0.50,"a2":0.069,"a3":0.059,"p1":61.8,"p2":47.9,"p3":43.9}
    ]
  },
  "vconcat": [
    {
      "width": 1082,
      "height": 263,
      "data": {"name": "temp"},
      "mark": {"type": "line", "color": "#404040", "strokeWidth": 4.5},
      "encoding": {
        "x": {
          "field": "t",
          "type": "quantitative",
          "scale": {"domain": [0, 1500], "nice": false},
          "axis": {"labels": false, "title": null, "grid": false,
            "values": [0,100,200,300,400,500,600,700,800,900,1000,1100,1200,1300,1400,1500]}
        },
        "y": {
          "field": "T",
          "type": "quantitative",
          "scale": {"domain": [-25, -5], "nice": false},
          "axis": {"values": [-25, -20, -15, -10, -5], "grid": false,
            "labelExpr": "replace(datum.label, '−', '-')",
            "title": "Temperature, T ⁰C"}
        }
      }
    },
    {
      "width": 1082,
      "height": 263,
      "data": {"name": "sig"},
      "transform": [{"fold": ["a1", "a2", "a3"], "as": ["series", "a"]}],
      "mark": {"type": "line", "strokeWidth": 1.3},
      "encoding": {
        "x": {
          "field": "t",
          "type": "quantitative",
          "scale": {"domain": [0, 1500], "nice": false},
          "axis": {"labels": false, "title": null,
            "values": [0,100,200,300,400,500,600,700,800,900,1000,1100,1200,1300,1400,1500]}
        },
        "y": {
          "field": "a",
          "type": "quantitative",
          "scale": {"domain": [0, 0.6], "nice": false},
          "axis": {"values": [0, 0.1, 0.2, 0.3, 0.4, 0.5, 0.6], "format": ".1f",
            "labelExpr": "datum.value == 0 ? '0' : datum.label",
            "title": "Acceleration, a (m/s²)"}
        },
        "color": {
          "field": "series",
          "type": "nominal",
          "scale": {"domain": ["a1", "a2", "a3"], "range": ["#ff0000", "#000000", "#1e961e"]},
          "legend": {"title": null, "labelExpr": "replace(replace(replace(datum.label, '1', '₁'), '2', '₂'), '3', '₃')"}
        },
        "strokeDash": {
          "field": "series",
          "type": "nominal",
          "scale": {"domain": ["a1", "a2", "a3"], "range": [[1, 0], [6, 3], [2, 1.5]]},
          "legend": {"title": null, "labelExpr": "replace(replace(replace(datum.label, '1', '₁'), '2', '₂'), '3', '₃')"}
        }
      }
    },
    {
      "width": 1082,
      "height": 263,
      "data": {"name": "sig"},
      "transform": [{"fold": ["p1", "p2", "p3"], "as": ["series", "L"]}],
      "mark": {"type": "line", "strokeWidth": 1.3},
      "encoding": {
        "x": {
          "field": "t",
          "type": "quantitative",
          "scale": {"domain": [0, 1500], "nice": false},
          "axis": {"title": "Time, t (s)", "format": "d",
            "values": [0,100,200,300,400,500,600,700,800,900,1000,1100,1200,1300,1400,1500]}
        },
        "y": {
          "field": "L",
          "type": "quantitative",
          "scale": {"domain": [10, 70], "nice": false},
          "axis": {"values": [10, 20, 30, 40, 50, 60, 70], "title": "Lₚ, dBA  re 20 μPa"}
        },
        "color": {
          "field": "series",
          "type": "nominal",
          "scale": {"domain": ["p1", "p2", "p3"], "range": ["#8b0000", "#a4a4a4", "#22ee22"]},
          "legend": {"title": null, "labelExpr": "replace(replace(replace(datum.label, '1', '₁'), '2', '₂'), '3', '₃')"}
        },
        "strokeDash": {
          "field": "series",
          "type": "nominal",
          "scale": {"domain": ["p1", "p2", "p3"], "range": [[1, 0], [6, 3], [2, 1.5]]},
          "legend": {"title": null, "labelExpr": "replace(replace(replace(datum.label, '1', '₁'), '2', '₂'), '3', '₃')"}
        }
      }
    }
  ],
  "resolve": {"scale": {"color": "independent", "strokeDash": "independent"}, "legend": {"color": "independent", "strokeDash": "independent"}},
  "config": {
    "font": "Liberation Serif",
    "view": {"stroke": "#c8c8c8", "strokeWidth": 2},
    "axis": {
      "labelFont": "Liberation Serif", "titleFont": "Liberation Serif",
      "labelFontSize": 22, "titleFontSize": 27, "titleFontWeight": "normal",
      "labelColor": "#000000", "titleColor": "#000000",
      "domainColor": "#333333", "domainWidth": 2.5,
      "tickColor": "#333333", "tickWidth": 2, "tickSize": 8,
      "gridColor": "#d4d4d4", "gridWidth": 2
    },
    "axisY": {"labelFont": "Liberation Serif", "titleFont": "Liberation Serif", "titlePadding": 8, "labelPadding": 3},
    "axisX": {"labelFont": "Liberation Serif", "titleFont": "Liberation Serif", "labelPadding": 2, "titlePadding": 10},
    "legend": {
      "orient": "top-right", "direction": "horizontal", "offset": 14,
      "strokeColor": "#000000", "fillColor": "#ffffff", "padding": 3,
      "symbolType": "M-1,0H3", "symbolSize": 900, "symbolStrokeWidth": 2,
      "labelFont": "Liberation Serif", "labelFontSize": 27, "labelFontStyle": "italic",
      "labelColor": "#000000", "columnPadding": 14, "labelOffset": 46
    }
  }
}
